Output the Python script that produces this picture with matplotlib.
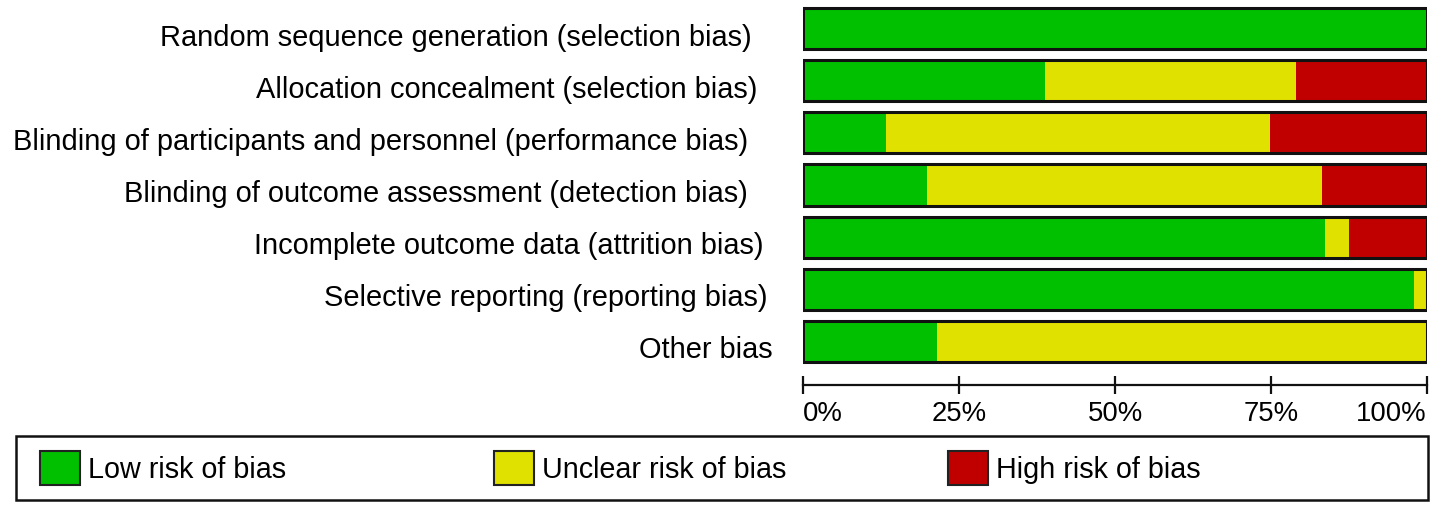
import matplotlib
matplotlib.use("Agg")
import matplotlib.pyplot as plt
from matplotlib.patches import Rectangle
import matplotlib.transforms as mtransforms
import numpy as np

plt.rcParams['font.family'] = ['Liberation Sans', 'DejaVu Sans']

domains = [
    "Random sequence generation (selection bias)",
    "Allocation concealment (selection bias)",
    "Blinding of participants and personnel (performance bias)",
    "Blinding of outcome assessment (detection bias)",
    "Incomplete outcome data (attrition bias)",
    "Selective reporting (reporting bias)",
    "Other bias",
]
low = [100.0, 38.8, 13.3, 19.8, 83.7, 97.9, 21.4]
unclear = [0.0, 40.2, 61.5, 63.4, 3.8, 2.1, 78.6]
high = [0.0, 21.0, 25.2, 16.8, 12.5, 0.0, 0.0]
tick_vals = [0, 25, 50, 75, 100]
tick_labels = ["0%", "25%", "50%", "75%", "100%"]
legend_labels = ["Low risk of bias", "Unclear risk of bias", "High risk of bias"]
colors = ["#00C000", "#E1E100", "#C00000"]

W, H = 1441, 515
fig = plt.figure(figsize=(W / 100, H / 100), dpi=100)
fig.patch.set_facecolor("white")

# axes placement in pixels
x0, x1 = 803, 1427
ytop, ybot = 2.5, 385
ax = fig.add_axes([x0 / W, (H - ybot) / H, (x1 - x0) / W, (ybot - ytop) / H])

y = np.arange(len(domains))
h = 0.79
low_a = np.array(low); unc_a = np.array(unclear); high_a = np.array(high)
ax.barh(y, low_a, height=h, color=colors[0], edgecolor="none")
ax.barh(y, unc_a, left=low_a, height=h, color=colors[1], edgecolor="none")
ax.barh(y, high_a, left=low_a + unc_a, height=h, color=colors[2], edgecolor="none")
ax.barh(y, low_a + unc_a + high_a, height=h, fill=False, edgecolor="#111111", linewidth=2.2)

ax.set_xlim(0, 100)
ax.set_ylim(len(domains) - 1 + 0.837, -0.5)
for s in ["top", "right", "left"]:
    ax.spines[s].set_visible(False)
ax.spines["bottom"].set_linewidth(1.6)
ax.spines["bottom"].set_color("#111111")

ax.set_yticks(y)
ax.set_yticklabels([])
ax.tick_params(axis="y", length=0)
# row labels (right edges as in the reference layout)
label_right_px = [752, 757, 748, 748, 763, 768, 773]
for yi, lab, rpx in zip(y, domains, label_right_px):
    tr = mtransforms.blended_transform_factory(fig.transFigure, ax.transData)
    off = mtransforms.offset_copy(tr, fig=fig, x=0, y=-9, units="dots")
    ax.text(rpx / W, yi, lab, transform=off, fontsize=20.9, ha="right", va="center",
            clip_on=False)

ax.set_xticks(tick_vals)
ax.set_xticklabels(tick_labels, fontsize=19.8)
ax.tick_params(axis="x", direction="inout", length=13, width=1.6, color="#111111", pad=5)
xl = ax.get_xticklabels()
xl[0].set_horizontalalignment("left")
xl[-1].set_horizontalalignment("right")

# legend box
def px(xp, yp):
    return xp / W, (H - yp) / H

bx0, by0 = px(16, 500)
bx1, by1 = px(1428, 436)
fig.add_artist(Rectangle((bx0, by0), bx1 - bx0, by1 - by0, transform=fig.transFigure,
                         fill=False, edgecolor="#111111", linewidth=1.8))
patch_x = [40, 494, 948]
for px_, lab, c in zip(patch_x, legend_labels, colors):
    rx, ry = px(px_, 485)
    rx2, ry2 = px(px_ + 40, 451)
    fig.add_artist(Rectangle((rx, ry), rx2 - rx, ry2 - ry, transform=fig.transFigure,
                             facecolor=c, edgecolor="#222222", linewidth=1.5))
    tx, ty = px(px_ + 48, 470)
    fig.text(tx, ty, lab, fontsize=20.7, va="center", ha="left")

fig.savefig("out.png", dpi=100, facecolor="white")
